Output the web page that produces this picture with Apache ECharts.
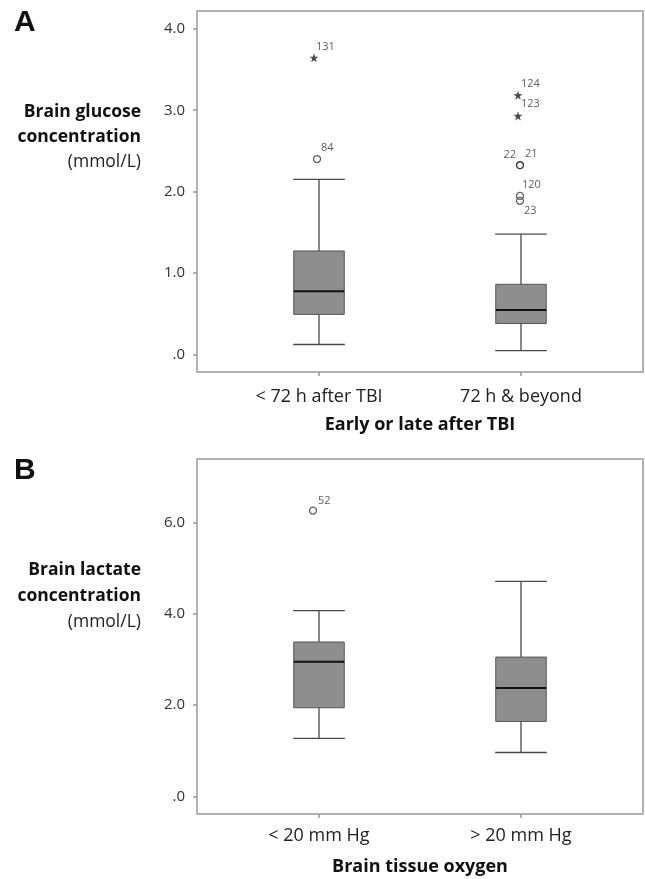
<!DOCTYPE html>
<html>
<head>
<meta charset="utf-8">
<script src="https://cdn.jsdelivr.net/npm/echarts@6/dist/echarts.min.js"></script>
<style>
html,body{margin:0;padding:0;background:#fff;}
#chart{width:645px;height:879px;}
</style>
</head>
<body>
<div id="chart"></div>
<script>
// ---------- Data ----------
const categoriesA = ['< 72 h after TBI', '72 h & beyond'];
// [categoryIndex, lowerWhisker, Q1, median, Q3, upperWhisker]
const boxesA = [
  [0, 0.12, 0.49, 0.775, 1.27, 2.15],
  [1, 0.045, 0.378, 0.545, 0.86, 1.476]
];
// extreme outliers (stars): [categoryIndex, value, caseId]
const starsA = [
  [0, 3.645, '131'],
  [1, 3.185, '124'],
  [1, 2.93, '123']
];
// outliers (circles): [categoryIndex, value, caseId]
const circlesA = [
  [0, 2.40, '84'],
  [1, 2.325, '22'],
  [1, 2.325, '21'],
  [1, 1.947, '120'],
  [1, 1.886, '23']
];
const ticksA = [0, 1, 2, 3, 4];

const categoriesB = ['< 20 mm Hg', '> 20 mm Hg'];
const boxesB = [
  [0, 1.27, 1.94, 2.95, 3.38, 4.07],
  [1, 0.96, 1.64, 2.37, 3.05, 4.71]
];
const circlesB = [
  [0, 6.26, '52']
];
const ticksB = [0, 2, 4, 6];

// ---------- Styles (label placement per case id) ----------
const labelStyle = {
  '131': {dx: 2, dy: -11, align: 'left', sx: -5},
  '84':  {dx: 4, dy: -11, align: 'left', sx: -2},
  '124': {dx: 3, dy: -11, align: 'left', sx: -3},
  '123': {dx: 3, dy: -12, align: 'left', sx: -3},
  '22':  {dx: -4, dy: -10, align: 'right', sx: -1},
  '21':  {dx: 5, dy: -11, align: 'left', sx: -1},
  '120': {dx: 2, dy: -11, align: 'left', sx: -1},
  '23':  {dx: 4, dy: 10, align: 'left', sx: -1},
  '52':  {dx: 5, dy: -10, align: 'left', sx: -6}
};

const STAR = 'path://M0,-10 L2.35,-3.24 L9.51,-3.09 L3.8,1.24 L5.88,8.09 L0,4 L-5.88,8.09 L-3.8,1.24 L-9.51,-3.09 L-2.35,-3.24 Z';
const FONT = '"Open Sans", "DejaVu Sans", sans-serif';

function fmtTick(v) {
  return v === 0 ? '.0' : v.toFixed(1);
}

function renderBox(params, api) {
  const x = api.value(0);
  const lo = api.coord([x, api.value(1)]);
  const q1 = api.coord([x, api.value(2)]);
  const md = api.coord([x, api.value(3)]);
  const q3 = api.coord([x, api.value(4)]);
  const hi = api.coord([x, api.value(5)]);
  const band = api.size([1, 0])[0];
  const bw = band * 0.25;
  const cw = band * 0.128;
  const cx = lo[0];
  const wStyle = {stroke: '#4a4a4a', lineWidth: 1.3, fill: null};
  return {
    type: 'group',
    children: [
      {type: 'line', shape: {x1: cx, y1: q3[1], x2: cx, y2: hi[1]}, style: wStyle},
      {type: 'line', shape: {x1: cx, y1: q1[1], x2: cx, y2: lo[1]}, style: wStyle},
      {type: 'line', shape: {x1: cx - cw, y1: hi[1], x2: cx + cw, y2: hi[1]}, style: wStyle},
      {type: 'line', shape: {x1: cx - cw, y1: lo[1], x2: cx + cw, y2: lo[1]}, style: wStyle},
      {type: 'rect', shape: {x: cx - bw / 2, y: q3[1], width: bw, height: q1[1] - q3[1]},
        style: {fill: '#8e8e8e', stroke: '#555', lineWidth: 1}},
      {type: 'line', shape: {x1: cx - bw / 2, y1: md[1], x2: cx + bw / 2, y2: md[1]},
        style: {stroke: '#111', lineWidth: 2}}
    ]
  };
}

function pointItems(arr) {
  return arr.map(function (d) {
    const s = labelStyle[d[2]] || {dx: 3, dy: -11, align: 'left', sx: 0};
    return {
      value: [d[0], d[1]],
      name: d[2],
      symbolOffset: [s.sx, 0],
      label: {
        show: true, position: 'inside', align: s.align, verticalAlign: 'middle',
        offset: [s.dx, s.dy], formatter: '{b}', fontSize: 11, color: '#333',
        fontFamily: FONT
      }
    };
  });
}

function frameGrid(top, height) {
  return {left: 197, top: top, width: 446, height: height, show: true,
    borderColor: '#9a9a9a', borderWidth: 1.5, backgroundColor: 'transparent'};
}
function dataGrid(top, height) {
  return {left: 218, top: top, width: 404, height: height};
}
function catAxis(gridIndex, cats, title, margin) {
  return {
    type: 'category', gridIndex: gridIndex, data: cats,
    axisLine: {show: false, onZero: false},
    axisTick: {show: true, alignWithLabel: true, length: 4, lineStyle: {color: '#999', width: 1.5}},
    axisLabel: {margin: margin, fontSize: 18, color: '#222', fontFamily: FONT},
    name: title, nameLocation: 'middle', nameGap: 44,
    nameTextStyle: {fontSize: 18, fontWeight: 'bold', color: '#111', fontFamily: FONT}
  };
}
function valAxis(gridIndex, min, max, ticks) {
  return {
    type: 'value', gridIndex: gridIndex, min: min, max: max, offset: 21,
    axisLine: {show: false},
    splitLine: {show: false},
    axisTick: {show: true, length: 4, customValues: ticks, lineStyle: {color: '#999', width: 1.5}},
    axisLabel: {margin: 12, fontSize: 15, color: '#333', fontFamily: FONT,
      customValues: ticks, formatter: fmtTick}
  };
}

const option = {
  animation: false,
  backgroundColor: '#fff',
  grid: [
    frameGrid(11, 361),
    dataGrid(11, 361),
    frameGrid(459, 355),
    dataGrid(459, 355)
  ],
  xAxis: [
    {type: 'value', gridIndex: 0, show: false},
    catAxis(1, categoriesA, 'Early or late after TBI', 16),
    {type: 'value', gridIndex: 2, show: false},
    catAxis(3, categoriesB, 'Brain tissue oxygen', 13)
  ],
  yAxis: [
    {type: 'value', gridIndex: 0, show: false},
    valAxis(1, -0.218, 4.22, ticksA),
    {type: 'value', gridIndex: 2, show: false},
    valAxis(3, -0.388, 7.39, ticksB)
  ],
  series: [
    {type: 'custom', xAxisIndex: 1, yAxisIndex: 1, renderItem: renderBox,
      encode: {x: 0, y: [1, 2, 3, 4, 5]}, data: boxesA, z: 2},
    {type: 'scatter', xAxisIndex: 1, yAxisIndex: 1, symbol: STAR, symbolSize: 9,
      itemStyle: {color: '#222'}, data: pointItems(starsA), z: 3},
    {type: 'scatter', xAxisIndex: 1, yAxisIndex: 1, symbol: 'circle', symbolSize: 7,
      itemStyle: {color: 'rgba(255,255,255,0)', borderColor: '#3a3a3a', borderWidth: 1.3},
      data: pointItems(circlesA), z: 3},
    {type: 'custom', xAxisIndex: 3, yAxisIndex: 3, renderItem: renderBox,
      encode: {x: 0, y: [1, 2, 3, 4, 5]}, data: boxesB, z: 2},
    {type: 'scatter', xAxisIndex: 3, yAxisIndex: 3, symbol: 'circle', symbolSize: 7,
      itemStyle: {color: 'rgba(255,255,255,0)', borderColor: '#3a3a3a', borderWidth: 1.3},
      data: pointItems(circlesB), z: 3}
  ],
  graphic: [
    {type: 'text', left: 14, top: 8, style: {text: 'A', font: 'bold 30px "Liberation Sans", Arial, sans-serif', fill: '#111'}},
    {type: 'text', left: 14, top: 456, style: {text: 'B', font: 'bold 30px "Liberation Sans", Arial, sans-serif', fill: '#111'}},
    {type: 'text', x: 141, y: 112, style: {text: 'Brain glucose', align: 'right', verticalAlign: 'middle', font: 'bold 17.5px ' + FONT, fill: '#111'}},
    {type: 'text', x: 141, y: 137, style: {text: 'concentration', align: 'right', verticalAlign: 'middle', font: 'bold 17.5px ' + FONT, fill: '#111'}},
    {type: 'text', x: 141, y: 162, style: {text: '(mmol/L)', align: 'right', verticalAlign: 'middle', font: '17.5px ' + FONT, fill: '#222'}},
    {type: 'text', x: 141, y: 570, style: {text: 'Brain lactate', align: 'right', verticalAlign: 'middle', font: 'bold 17.5px ' + FONT, fill: '#111'}},
    {type: 'text', x: 141, y: 596, style: {text: 'concentration', align: 'right', verticalAlign: 'middle', font: 'bold 17.5px ' + FONT, fill: '#111'}},
    {type: 'text', x: 141, y: 622, style: {text: '(mmol/L)', align: 'right', verticalAlign: 'middle', font: '17.5px ' + FONT, fill: '#222'}}
  ]
};

const chart = echarts.init(document.getElementById('chart'), null, {renderer: 'canvas'});
chart.setOption(option);
</script>
</body>
</html>
